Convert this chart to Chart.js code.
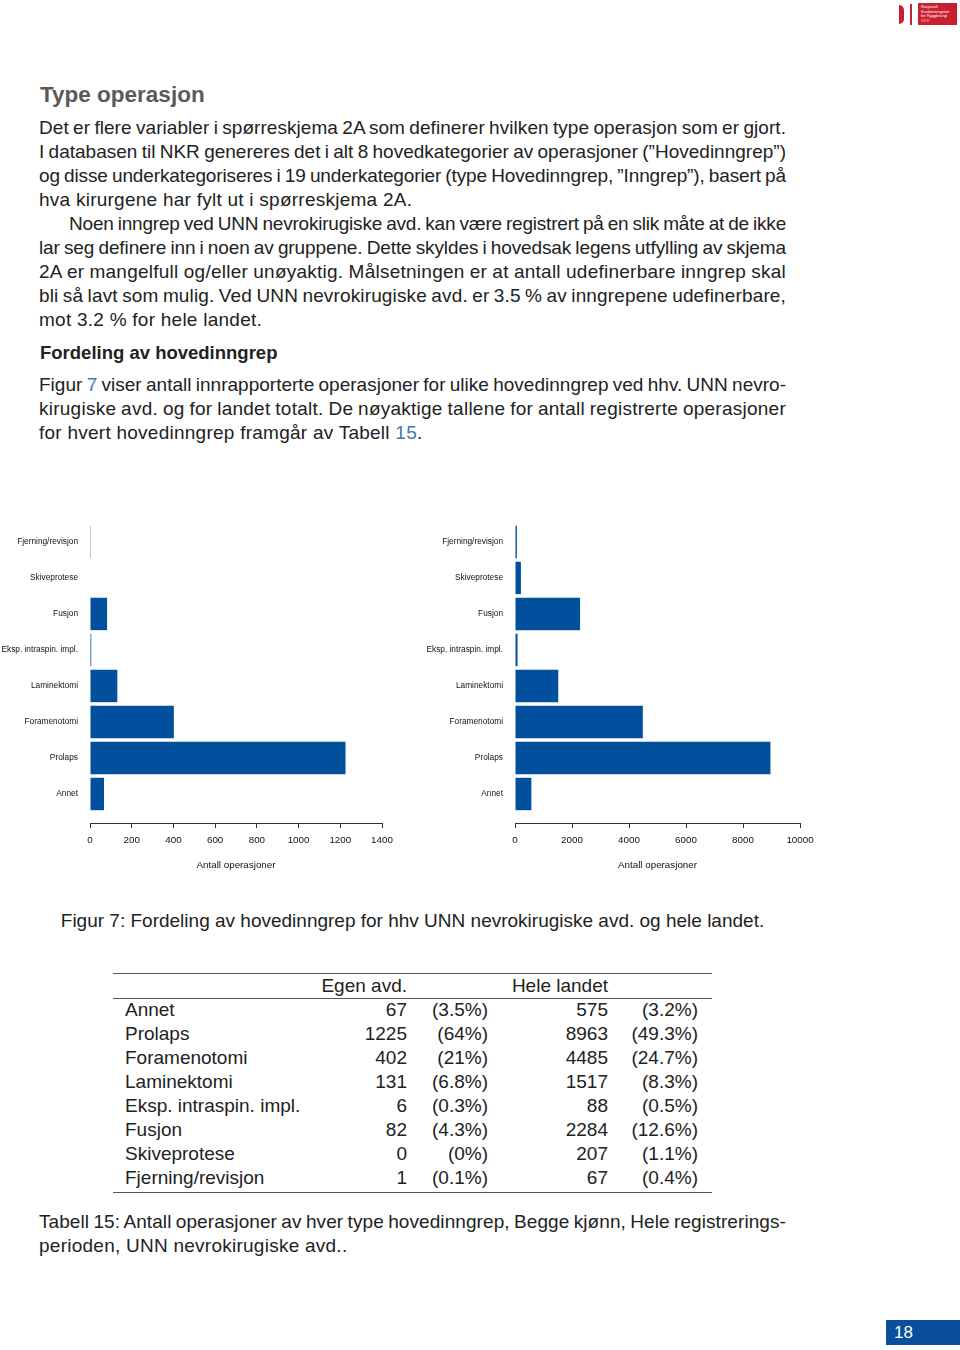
<!DOCTYPE html>
<html lang="no">
<head>
<meta charset="utf-8">
<title>Type operasjon</title>
<script src="https://cdn.jsdelivr.net/npm/chart.js@4.4.1/dist/chart.umd.min.js"></script>
<style>
  html, body { margin: 0; padding: 0; background: #fff; }
  body { width: 960px; height: 1350px; position: relative; overflow: hidden;
         font-family: "Liberation Sans", Arial, sans-serif; color: #222; }
  .ln { position: absolute; left: 39px; width: 747px; height: 24px; line-height: 24px;
        font-size: 19px; letter-spacing: 0.25px; white-space: nowrap; }
  .ln span { display: inline-block; }
  .lnk { color: #4a79a8; }
  h1, h2 { margin: 0; position: absolute; left: 40px; white-space: nowrap; }
  h1 { top: 80px; font-size: 22.5px; line-height: 30px; color: #5a5a5a; }
  h2 { top: 341px; font-size: 18.5px; line-height: 24px; color: #222; }
  .cv { position: absolute; top: 515px; }
  .rule { position: absolute; left: 113px; width: 599px; background: #555; }
  .cell { position: absolute; height: 24px; line-height: 24px; font-size: 19px; white-space: nowrap; }
  .r { text-align: right; }
  #page { position: absolute; left: 886px; top: 1320px; width: 74px; height: 25px; background: #0a4f9c;
          color: #fff; font-size: 17px; line-height: 25px; text-indent: 8px; }
</style>
</head>
<body>

<!-- logo oppe til høyre -->
<div style="position:absolute;left:899px;top:5px;width:5px;height:19px;background:#c8202f;border-radius:0 6px 6px 0;"></div>
<div style="position:absolute;left:910px;top:4px;width:2px;height:21px;background:#c8202f;"></div>
<div style="position:absolute;left:918px;top:3px;width:39px;height:22px;background:#c8202f;color:#fff;font-size:4px;line-height:4.6px;padding:2px 0 0 3px;box-sizing:border-box;">Nasjonalt<br>Kvalitetsregister<br>for Ryggkirurgi<br><span style="opacity:.6">NKR</span></div>

<h1>Type operasjon</h1>

<div class="ln j" style="top:116px"><span>Det er flere variabler i spørreskjema 2A som definerer hvilken type operasjon som er gjort.</span></div>
<div class="ln j" style="top:140px"><span>I databasen til NKR genereres det i alt 8 hovedkategorier av operasjoner (”Hovedinngrep”)</span></div>
<div class="ln j" style="top:164px"><span>og disse underkategoriseres i 19 underkategorier (type Hovedinngrep, ”Inngrep”), basert på</span></div>
<div class="ln" style="top:188px"><span>hva kirurgene har fylt ut i spørreskjema 2A.</span></div>
<div class="ln j" style="top:212px;left:69px;width:717px"><span>Noen inngrep ved UNN nevrokirugiske avd. kan være registrert på en slik måte at de ikke</span></div>
<div class="ln j" style="top:236px"><span>lar seg definere inn i noen av gruppene. Dette skyldes i hovedsak legens utfylling av skjema</span></div>
<div class="ln j" style="top:260px"><span>2A er mangelfull og/eller unøyaktig. Målsetningen er at antall udefinerbare inngrep skal</span></div>
<div class="ln j" style="top:284px"><span>bli så lavt som mulig. Ved UNN nevrokirugiske avd. er 3.5 % av inngrepene udefinerbare,</span></div>
<div class="ln" style="top:308px"><span>mot 3.2 % for hele landet.</span></div>

<h2>Fordeling av hovedinngrep</h2>

<div class="ln j" style="top:373px"><span>Figur <span class="lnk">7</span> viser antall innrapporterte operasjoner for ulike hovedinngrep ved hhv. UNN nevro-</span></div>
<div class="ln j" style="top:397px"><span>kirugiske avd. og for landet totalt. De nøyaktige tallene for antall registrerte operasjoner</span></div>
<div class="ln" style="top:421px"><span>for hvert hovedinngrep framgår av Tabell <span class="lnk">15</span>.</span></div>

<canvas id="chartEgen" class="cv" style="left:0" width="420" height="365"></canvas>
<canvas id="chartLandet" class="cv" style="left:420px" width="420" height="365"></canvas>

<div class="ln" style="top:909px;text-align:center;letter-spacing:0"><span>Figur 7: Fordeling av hovedinngrep for hhv UNN nevrokirugiske avd. og hele landet.</span></div>

<div id="tabell"></div>

<div class="ln j" style="top:1210px"><span>Tabell 15: Antall operasjoner av hver type hovedinngrep, Begge kjønn, Hele registrerings-</span></div>
<div class="ln" style="top:1234px"><span>perioden, UNN nevrokirugiske avd..</span></div>

<div id="page">18</div>

<script>
// Kategorier i tabellrekkefølge (Annet nederst i figuren)
const kategorier = ['Annet', 'Prolaps', 'Foramenotomi', 'Laminektomi',
  'Eksp. intraspin. impl.', 'Fusjon', 'Skiveprotese', 'Fjerning/revisjon'];
const egenAvd = [67, 1225, 402, 131, 6, 82, 0, 1];
const egenProsent = [3.5, 64, 21, 6.8, 0.3, 4.3, 0, 0.1];
const heleLandet = [575, 8963, 4485, 1517, 88, 2284, 207, 67];
const heleProsent = [3.2, 49.3, 24.7, 8.3, 0.5, 12.6, 1.1, 0.4];

// x-akser
const egenMax = 1400, egenSteg = 200;
const landetMax = 10000, landetSteg = 2000;

const FONT = '"Liberation Sans", Arial, sans-serif';
const BLAA = '#00509e';

// Fyller linjene ut til full bredde (blokkjustering)
document.querySelectorAll('.ln.j').forEach(el => {
  const span = el.firstElementChild;
  const tekst = span.textContent;
  const w = span.getBoundingClientRect().width;
  const mellomrom = (tekst.match(/ /g) || []).length;
  let ekstra = el.clientWidth - w;
  if (ekstra < 0) {
    // for bred: litt tettere ord, resten tas av bokstavavstanden
    const ord = Math.max(ekstra, -1 * mellomrom);
    el.style.wordSpacing = (ord / mellomrom) + 'px';
    ekstra -= ord;
    el.style.letterSpacing = (0.25 + ekstra / tekst.length) + 'px';
    const w2 = span.getBoundingClientRect().width;
    el.style.wordSpacing = (ord / mellomrom + (el.clientWidth - w2) / mellomrom) + 'px';
  } else {
    el.style.wordSpacing = (ekstra / mellomrom) + 'px';
  }
});

// Tabell 15
function lagTabell() {
  const t = document.getElementById('tabell');
  let html = '';
  html += '<div class="rule" style="top:973px;height:1.4px"></div>';
  html += '<div class="rule" style="top:997.5px;height:0.9px"></div>';
  html += '<div class="rule" style="top:1192px;height:1.4px"></div>';
  html += '<div class="cell r" style="top:974px;left:300px;width:107px">Egen avd.</div>';
  html += '<div class="cell r" style="top:974px;left:500px;width:108px">Hele landet</div>';
  kategorier.forEach((k, i) => {
    const top = 998 + i * 24;
    html += `<div class="cell" style="top:${top}px;left:125px">${k}</div>`;
    html += `<div class="cell r" style="top:${top}px;left:330px;width:77px">${egenAvd[i]}</div>`;
    html += `<div class="cell r" style="top:${top}px;left:410px;width:78px">(${egenProsent[i]}%)</div>`;
    html += `<div class="cell r" style="top:${top}px;left:520px;width:88px">${heleLandet[i]}</div>`;
    html += `<div class="cell r" style="top:${top}px;left:610px;width:88px">(${heleProsent[i]}%)</div>`;
  });
  t.innerHTML = html;
}
lagTabell();

function lagDiagram(id, verdier, max, steg, akseBredde, padHoyre) {
  const tekst = { family: FONT, size: 9.8 };
  return new Chart(document.getElementById(id), {
    type: 'bar',
    data: {
      datasets: [{
        data: verdier.map((v, i) => ({ x: v, y: i + 1 })),
        backgroundColor: BLAA,
        borderWidth: 0,
        barPercentage: 0.9,
        categoryPercentage: 1.0,
        clip: false
      }]
    },
    options: {
      indexAxis: 'y',
      responsive: false,
      animation: false,
      devicePixelRatio: 1,
      layout: { padding: { top: 0, right: padHoyre, left: 0, bottom: 0 } },
      plugins: { legend: { display: false }, tooltip: { enabled: false } },
      scales: {
        x: {
          type: 'linear',
          min: 0,
          max: max,
          ticks: { stepSize: steg, color: '#111', font: tekst, padding: 6,
                   maxRotation: 0, autoSkip: false, callback: v => String(v) },
          grid: { drawOnChartArea: false, drawTicks: true, tickLength: 5, color: '#333' },
          border: { color: '#333', width: 1 },
          title: { display: true, text: 'Antall operasjoner', color: '#111', font: tekst,
                   padding: { top: 0, bottom: 9 } },
          afterFit: s => { s.height = 57; }
        },
        y: {
          type: 'linear',
          offset: false,
          min: 0.194,
          max: 8.277,
          afterBuildTicks: s => { s.ticks = kategorier.map((k, i) => ({ value: i + 1 })); },
          ticks: { callback: v => kategorier[v - 1], color: '#111',
                   font: { family: FONT, size: 8.3 }, padding: 12, autoSkip: false },
          grid: { display: false, drawTicks: false, offset: false },
          border: { display: false },
          afterFit: s => { s.width = akseBredde; }
        }
      }
    }
  });
}

lagDiagram('chartEgen', egenAvd, egenMax, egenSteg, 90, 38);
lagDiagram('chartLandet', heleLandet, landetMax, landetSteg, 95, 40);
</script>
</body>
</html>
